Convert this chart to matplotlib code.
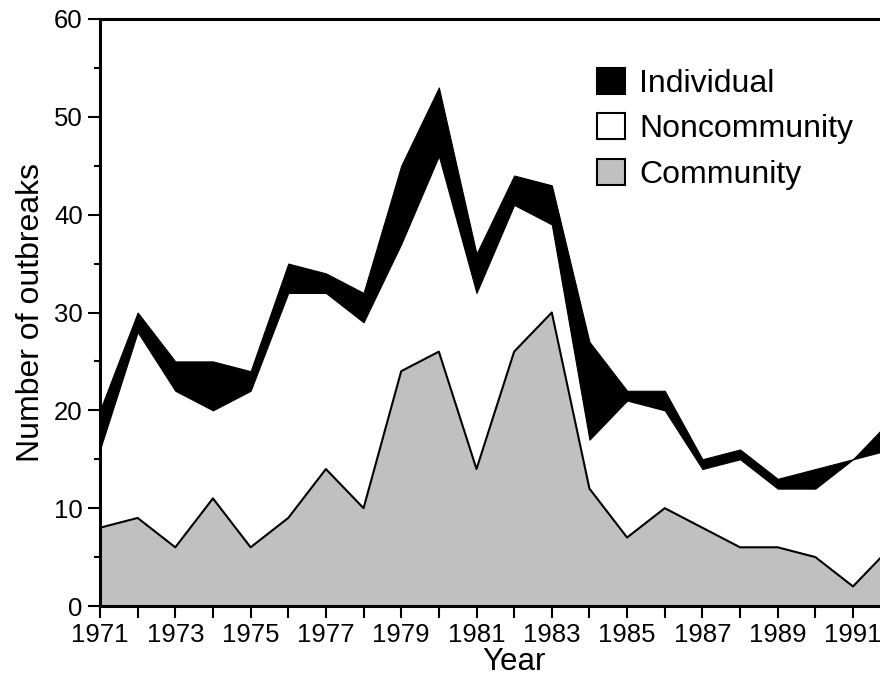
import matplotlib
matplotlib.use("Agg")
import matplotlib.pyplot as plt
from matplotlib.patches import Patch
from matplotlib.ticker import MultipleLocator
import numpy as np

years = list(range(1971, 1993))
community = [8, 9, 6, 11, 6, 9, 14, 10, 24, 26, 14, 26, 30, 12, 7, 10, 8, 6, 6, 5, 2, 6]
noncommunity = [8, 19, 16, 9, 16, 23, 18, 19, 13, 20, 18, 15, 9, 5, 14, 10, 6, 9, 6, 7, 13, 10]
individual = [4, 2, 3, 5, 2, 3, 2, 3, 8, 7, 4, 3, 4, 10, 1, 2, 1, 1, 1, 2, 0, 3]
series_labels = ["Individual", "Noncommunity", "Community"]
xtick_labels = [str(y) if (y - 1971) % 2 == 0 else "" for y in range(1971, 1994)]

plt.rcParams['font.family'] = ['Liberation Sans', 'DejaVu Sans']

fig = plt.figure(figsize=(8.8, 6.84), dpi=100)
ax = fig.add_axes([100/880, 78/684, 828.3/880, 587/684])

x = np.array(years)
c = np.array(community)
n = c + np.array(noncommunity)
t = n + np.array(individual)

gray = '#c0c0c0'
ax.fill_between(x, 0, c, facecolor=gray, linewidth=0, zorder=1)
ax.fill_between(x, c, n, facecolor='white', linewidth=0, zorder=1)
ax.fill_between(x, n, t, facecolor='black', edgecolor='black', linewidth=0.8, zorder=2)
ax.plot(x, c, color='black', linewidth=1.5, zorder=3)

ax.set_xlim(1971, 1993)
ax.set_ylim(0, 60)

ax.set_xticks(range(1971, 1994))
ax.set_xticklabels(xtick_labels)
ax.yaxis.set_major_locator(MultipleLocator(10))
ax.yaxis.set_minor_locator(MultipleLocator(5))

ax.tick_params(axis='both', which='major', direction='out', length=8.5, width=1.5,
               labelsize=18.5, color='black')
ax.tick_params(axis='x', which='major', pad=4)
ax.tick_params(axis='y', which='major', pad=4)
ax.tick_params(axis='y', which='minor', direction='out', length=4.5, width=1.5)

for side in ['left', 'top', 'bottom']:
    ax.spines[side].set_linewidth(2.2)
ax.spines['right'].set_visible(False)

ax.set_xlabel("Year", fontsize=22.5, labelpad=0)
ax.set_ylabel("Number of outbreaks", fontsize=23, labelpad=6)

handles = [
    Patch(facecolor='black', edgecolor='black', linewidth=1.5),
    Patch(facecolor='white', edgecolor='black', linewidth=1.5),
    Patch(facecolor=gray, edgecolor='black', linewidth=1.5),
]
leg = ax.legend(handles, series_labels, loc='upper left',
                bbox_to_anchor=(597/880, 1 - 68/684), bbox_transform=fig.transFigure,
                frameon=False, fontsize=23, handlelength=0.87, handleheight=0.87,
                handletextpad=0.45, labelspacing=0.45, borderpad=0, borderaxespad=0)

fig.savefig("out.png", dpi=100)
